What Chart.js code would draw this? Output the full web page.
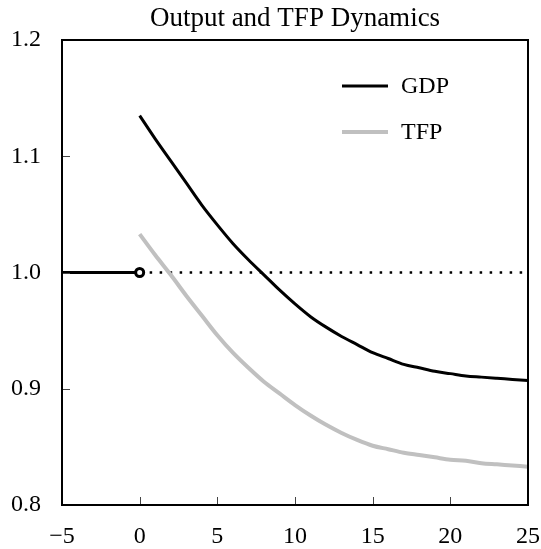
<!DOCTYPE html>
<html>
<head>
<meta charset="utf-8">
<script src="https://cdn.jsdelivr.net/npm/chart.js@4.4.1/dist/chart.umd.min.js"></script>
<style>
  html, body { margin: 0; padding: 0; background: #fff; }
  #wrap { width: 541px; height: 549px; }
</style>
</head>
<body>
<div id="wrap"><canvas id="chart"></canvas></div>
<script>
// values (level relative to pre-shock steady state)
const years = [0, 1, 2, 3, 4, 5, 6, 7, 8, 9, 10, 11, 12, 13, 14, 15, 16, 17, 18, 19, 20, 21, 22, 23, 24, 25];
const gdp = [1.135, 1.115, 1.096, 1.077, 1.058, 1.041, 1.025, 1.011, 0.998, 0.985, 0.973, 0.962, 0.953, 0.945,
             0.938, 0.931, 0.926, 0.921, 0.918, 0.915, 0.913, 0.911, 0.910, 0.909, 0.908, 0.907];
const tfp = [1.033, 1.015, 0.998, 0.980, 0.963, 0.946, 0.931, 0.918, 0.906, 0.896, 0.886, 0.877, 0.869, 0.862,
             0.856, 0.851, 0.848, 0.845, 0.843, 0.841, 0.839, 0.838, 0.836, 0.835, 0.834, 0.833];
const preYears = [-5, -4, -3, -2, -1, 0];
const preLevel = [1, 1, 1, 1, 1, 1];
const refYears = [0, 25];
const refLevel = [1, 1];
const xTicks = [-5, 0, 5, 10, 15, 20, 25];
const yTicks = [0.8, 0.9, 1.0, 1.1, 1.2];
const titleText = 'Output and TFP Dynamics';

const FONT = '"Liberation Serif", "DejaVu Serif", serif';
const pts = (xs, ys) => xs.map((x, i) => ({ x: x, y: ys[i] }));

// plot frame, inward tick marks and a title centred over the plot
const frame = {
  id: 'frame',
  afterDraw(chart) {
    const ctx = chart.ctx, a = chart.chartArea;
    const xs = chart.scales.x, ys = chart.scales.y;
    ctx.save();
    ctx.strokeStyle = '#444';
    ctx.lineWidth = 1;
    xTicks.slice(1, -1).forEach(v => {
      const px = Math.round(xs.getPixelForValue(v)) + 0.5;
      ctx.beginPath(); ctx.moveTo(px, a.bottom); ctx.lineTo(px, a.bottom - 8); ctx.stroke();
    });
    yTicks.slice(1, -1).forEach(v => {
      const py = Math.round(ys.getPixelForValue(v)) + 0.5;
      ctx.beginPath(); ctx.moveTo(a.left, py); ctx.lineTo(a.left + 8, py); ctx.stroke();
    });
    ctx.strokeStyle = '#000';
    ctx.lineWidth = 2;
    ctx.strokeRect(a.left, a.top, a.right - a.left, a.bottom - a.top);

    ctx.fillStyle = '#000';
    ctx.font = '27px ' + FONT;
    ctx.textAlign = 'center';
    ctx.textBaseline = 'alphabetic';
    ctx.fillText(titleText, (a.left + a.right) / 2, 26);
    ctx.restore();
  }
};

// legend drawn inside the plot, top right
const insideLegend = {
  id: 'insideLegend',
  afterDatasetsDraw(chart) {
    const ctx = chart.ctx, a = chart.chartArea;
    chart.data.datasets.filter(d => d.inLegend).forEach((d, i) => {
      const y = a.top + 46 + i * 46;
      const x0 = a.left + 280;
      ctx.save();
      ctx.strokeStyle = d.borderColor;
      ctx.lineWidth = d.borderWidth;
      ctx.beginPath(); ctx.moveTo(x0, y); ctx.lineTo(x0 + 46, y); ctx.stroke();
      ctx.fillStyle = '#000';
      ctx.font = '24px ' + FONT;
      ctx.textBaseline = 'middle';
      ctx.fillText(d.label, x0 + 59, y + 1);
      ctx.restore();
    });
  }
};

const ctx = document.getElementById('chart').getContext('2d');
new Chart(ctx, {
  type: 'line',
  data: {
    datasets: [
      {
        label: 'Steady state',
        data: pts(preYears, preLevel),
        borderColor: '#000',
        borderWidth: 3,
        pointRadius: c => (c.dataIndex === preYears.length - 1 ? 4 : 0),
        pointBorderWidth: 3,
        pointBorderColor: '#000',
        pointBackgroundColor: '#fff'
      },
      {
        label: 'GDP',
        inLegend: true,
        data: pts(years, gdp),
        borderColor: '#000',
        borderWidth: 3,
        cubicInterpolationMode: 'monotone',
        pointRadius: 0
      },
      {
        label: 'TFP',
        inLegend: true,
        data: pts(years, tfp),
        borderColor: '#c0c0c0',
        borderWidth: 4,
        cubicInterpolationMode: 'monotone',
        pointRadius: 0
      },
      {
        label: 'Initial level',
        data: pts(refYears, refLevel),
        borderColor: '#000',
        borderWidth: 2.5,
        borderDash: [2.5, 7.5],
        pointRadius: 0
      }
    ]
  },
  options: {
    responsive: true,
    maintainAspectRatio: false,
    animation: false,
    layout: { padding: { left: 0, right: 13, top: 40, bottom: 0 } },
    plugins: {
      legend: { display: false },
      tooltip: { enabled: false },
      title: { display: false }
    },
    scales: {
      x: {
        type: 'linear',
        min: -5,
        max: 25,
        afterBuildTicks: s => { s.ticks = xTicks.map(v => ({ value: v })); },
        afterFit: s => { s.height = 44; s.paddingLeft = 0; s.paddingRight = 0; },
        grid: { display: false },
        border: { display: false },
        ticks: {
          color: '#000',
          padding: 9,
          maxRotation: 0,
          font: { family: FONT, size: 24 },
          callback: v => String(v).replace('-', '\u2212')
        }
      },
      y: {
        type: 'linear',
        min: 0.8,
        max: 1.2,
        afterBuildTicks: s => { s.ticks = yTicks.map(v => ({ value: v })); },
        afterFit: s => { s.width = 62; s.paddingTop = 0; s.paddingBottom = 0; },
        grid: { display: false },
        border: { display: false },
        ticks: {
          color: '#000',
          padding: 13,
          font: { family: FONT, size: 24 },
          callback: v => Number(v).toFixed(1)
        }
      }
    }
  },
  plugins: [frame, insideLegend]
});
</script>
</body>
</html>
